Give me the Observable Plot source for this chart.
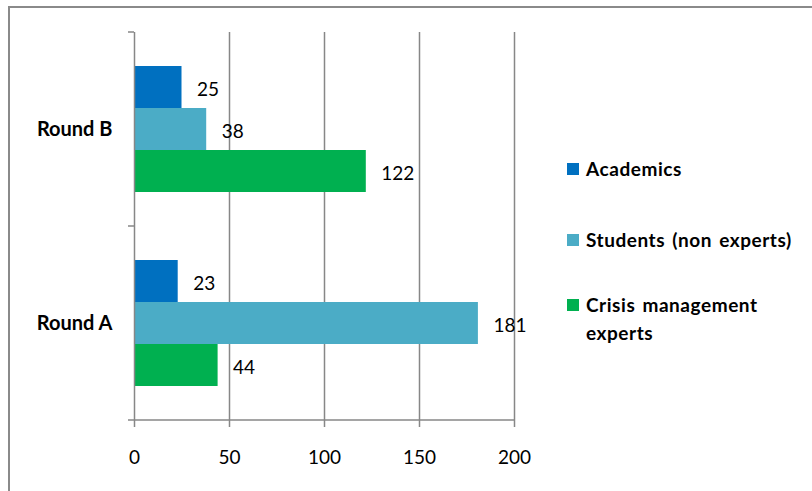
<!DOCTYPE html>
<html>
<head>
<meta charset="utf-8">
<script src="https://cdn.jsdelivr.net/npm/d3@7"></script>
<script src="https://cdn.jsdelivr.net/npm/@observablehq/plot@0.6"></script>
<style>
  html, body { margin: 0; padding: 0; background: #fff; }
  body { position: relative; width: 812px; height: 491px; overflow: hidden; font-family: Lato, "Open Sans", sans-serif; }
  #border { position: absolute; left: 8px; top: 6px; width: 900px; height: 600px; border: 2px solid #8a8a8a; box-sizing: border-box; }
  #chart { position: absolute; left: 0; top: 0; }
  .item { position: absolute; left: 567px; padding-left: 19px; line-height: 28px; font-weight: bold; font-size: 19px; letter-spacing: 0.55px; word-spacing: 2px; color: #000; white-space: nowrap; }
  .item .sw { position: absolute; left: 0; top: 8px; width: 12px; height: 12px; }
</style>
</head>
<body>
<div id="border"></div>
<div id="chart"></div>
<div id="legend"></div>
<script>
const rounds = ["Round B", "Round A"];
const series = ["Academics", "Students (non experts)", "Crisis management experts"];
const colors = ["#0070C0", "#4BACC6", "#00B050"];
const roundB = [25, 38, 122];
const roundA = [23, 181, 44];
const xTicks = [0, 50, 100, 150, 200];
const gridTicks = [50, 100, 150, 200];

const valuesByRound = [roundB, roundA];
const data = rounds.flatMap((r, i) => series.map((s, j) => ({round: r, series: s, value: valuesByRound[i][j]})));

const gray = "#878787";

const chart = Plot.plot({
  width: 812,
  height: 491,
  marginLeft: 134,
  marginRight: 298,
  marginTop: 31,
  marginBottom: 71,
  style: {fontFamily: "Lato, 'Open Sans', sans-serif", background: "transparent", color: "#000"},
  x: {domain: [0, 200], axis: null},
  y: {domain: series, paddingInner: 0, paddingOuter: 0.76, axis: null},
  fy: {domain: rounds, padding: 0, axis: null},
  color: {domain: series, range: colors},
  marks: [
    Plot.ruleX(gridTicks, {stroke: gray, strokeWidth: 1.5}),
    Plot.barX(data, {x: "value", y: "series", fy: "round", fill: "series"}),
    Plot.ruleX([0], {stroke: gray, strokeWidth: 1.5}),
    Plot.text(data, {x: "value", y: "series", fy: "round", text: "value", textAnchor: "start", dx: 15, dy: 2, fontSize: 19, fill: "#000"}),
    Plot.axisX(xTicks, {tickSize: 7, tickPadding: 23, stroke: gray, strokeWidth: 1.5, fontSize: 19, fill: "#000", label: null, tickFormat: d => String(d)}),
    Plot.axisFy({anchor: "left", tickSize: 0, tickPadding: 22, fontSize: 20, fontWeight: "bold", fill: "#000", label: null, style: "letter-spacing:0.6px"})
  ]
});

// axis line and category separator ticks, positioned with Plot's own scales
const sx = chart.scale("x");
const sfy = chart.scale("fy");
const x0 = sx.apply(0);
const x200 = sx.apply(200);
const bounds = rounds.map(r => sfy.apply(r));
const bottom = sfy.apply(rounds[rounds.length - 1]) + sfy.bandwidth;
bounds.push(bottom);
const g = d3.select(chart).append("g").attr("stroke", gray).attr("stroke-width", 1.5);
bounds.forEach(y => g.append("line").attr("x1", x0 - 6).attr("x2", x0).attr("y1", y).attr("y2", y));
g.append("line").attr("x1", x0).attr("x2", x200).attr("y1", bottom).attr("y2", bottom);

document.getElementById("chart").appendChild(chart);

// legend
const centers = [169, 240, 305];
const legend = document.getElementById("legend");
series.forEach((s, i) => {
  const d = document.createElement("div");
  d.className = "item";
  d.style.top = (centers[i] - 14) + "px";
  const sw = document.createElement("span");
  sw.className = "sw";
  sw.style.background = colors[i];
  d.appendChild(sw);
  if (s === "Crisis management experts") {
    d.appendChild(document.createTextNode("Crisis management"));
    d.appendChild(document.createElement("br"));
    d.appendChild(document.createTextNode("experts"));
  } else {
    d.appendChild(document.createTextNode(s));
  }
  legend.appendChild(d);
});
</script>
</body>
</html>
